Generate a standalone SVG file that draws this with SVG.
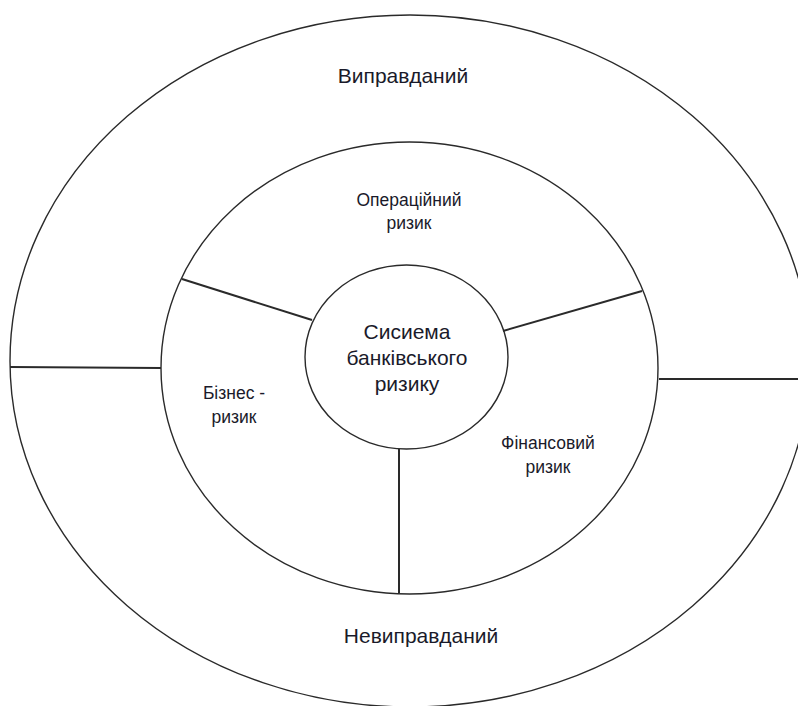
<svg xmlns="http://www.w3.org/2000/svg" width="798" height="706" viewBox="0 0 798 706">
<style>
.ring{fill:none;stroke:#2a2a2a;stroke-width:1.4}
.ln{stroke:#2a2a2a;stroke-width:2;fill:none}
.big{font-family:"Liberation Sans",Arial,sans-serif;font-size:21px;fill:#1a1a2a;text-anchor:middle}
.sm{font-family:"Liberation Sans",Arial,sans-serif;font-size:17.5px;fill:#1a1a2a;text-anchor:middle}
</style>
<rect width="798" height="706" fill="#ffffff"/>
<g id="outer">
<ellipse class="ring" cx="410" cy="361" rx="400" ry="346"/>
<text class="big" x="403" y="83">Виправданий</text>
<text class="big" x="421" y="643">Невиправданий</text>
</g>
<g id="middle">
<ellipse class="ring" cx="409.5" cy="368" rx="248.5" ry="226"/>
<text class="sm" x="409" y="206">Операційний</text>
<text class="sm" x="409" y="229">ризик</text>
<text class="sm" x="234" y="399">Бізнес -</text>
<text class="sm" x="234" y="423">ризик</text>
<text class="sm" x="548" y="449">Фінансовий</text>
<text class="sm" x="548" y="473">ризик</text>
</g>
<g id="center">
<ellipse class="ring" cx="406.5" cy="357" rx="101.5" ry="92"/>
<text class="big" x="407" y="339">Сисиема</text>
<text class="big" x="407" y="365">банківського</text>
<text class="big" x="407" y="391">ризику</text>
</g>
<g id="connectors">
<line class="ln" x1="182" y1="279" x2="312" y2="320"/>
<line class="ln" x1="503" y1="331" x2="642" y2="291"/>
<line class="ln" x1="399" y1="449" x2="399" y2="593"/>
<line class="ln" x1="10" y1="367" x2="161" y2="368"/>
<line class="ln" x1="659" y1="379" x2="798" y2="379"/>
</g>
</svg>
